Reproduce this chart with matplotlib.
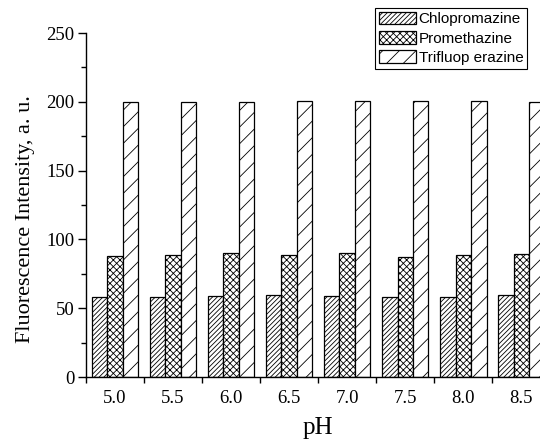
import numpy as np
import matplotlib
matplotlib.use("Agg")
import matplotlib.pyplot as plt
from matplotlib.ticker import MultipleLocator

ph = [5.0, 5.5, 6.0, 6.5, 7.0, 7.5, 8.0, 8.5]
chlorpromazine = [57.9, 58.1, 58.9, 59.4, 58.6, 58.4, 58.4, 59.6]
promethazine = [87.9, 88.4, 89.9, 88.7, 89.9, 87.2, 88.7, 89.4]
trifluoperazine = [200.0, 199.6, 200.0, 200.6, 200.6, 200.3, 200.6, 200.0]
names = ["Chlopromazine", "Promethazine", "Trifluop erazine"]

plt.rcParams['hatch.linewidth'] = 0.6
fig = plt.figure(figsize=(5.4, 4.41), dpi=100)
ax = fig.add_axes([0.159, 0.145, 0.841, 0.78])

x = np.array(ph)
w = 0.133
series = [chlorpromazine, promethazine, trifluoperazine]
hatches = ['///////', 'xxxxx', '//']
for i, (vals, h, name) in enumerate(zip(series, hatches, names)):
    ax.bar(x + (i - 1) * w, vals, width=w, facecolor='white', edgecolor='black',
           linewidth=0.9, hatch=h, label=name)

ax.set_xlim(4.75, 8.66)
ax.set_ylim(0, 250)
ax.set_xticks(ph)
ax.set_xticklabels([f"{v:.1f}" for v in ph])
ax.set_xticks(np.arange(4.75, 8.7, 0.5), minor=True)
ax.tick_params(axis='x', which='major', length=0, pad=9)
ax.tick_params(axis='x', which='minor', length=4, direction='out', width=1)
ax.yaxis.set_major_locator(MultipleLocator(50))
ax.yaxis.set_minor_locator(MultipleLocator(25))
ax.tick_params(axis='y', which='major', length=6, direction='out', width=1, pad=2)
ax.tick_params(axis='y', which='minor', length=3.5, direction='out', width=1)

for lab in ax.get_xticklabels() + ax.get_yticklabels():
    lab.set_fontfamily('Liberation Serif')
    lab.set_fontsize(13.5)

ax.spines['top'].set_visible(False)
ax.spines['right'].set_visible(False)
ax.spines['left'].set_linewidth(1)
ax.spines['bottom'].set_linewidth(1)

ax.set_xlabel("pH", fontfamily='Liberation Serif', fontsize=18)
ax.xaxis.set_label_coords(0.51, -0.115)
ax.set_ylabel("Fluorescence Intensity, a. u.", fontfamily='Liberation Serif',
              fontsize=16)
ax.yaxis.set_label_coords(-0.113, 0.46)

leg = ax.legend(loc='upper right', bbox_to_anchor=(0.972, 1.073),
                prop={'family': 'Liberation Sans', 'size': 11},
                fancybox=False, edgecolor='black', framealpha=1,
                handlelength=2.4, handleheight=0.9, handletextpad=0.2,
                borderpad=0.25, labelspacing=0.3, borderaxespad=0)
leg.get_frame().set_linewidth(0.8)

fig.savefig("out.png", dpi=100)
